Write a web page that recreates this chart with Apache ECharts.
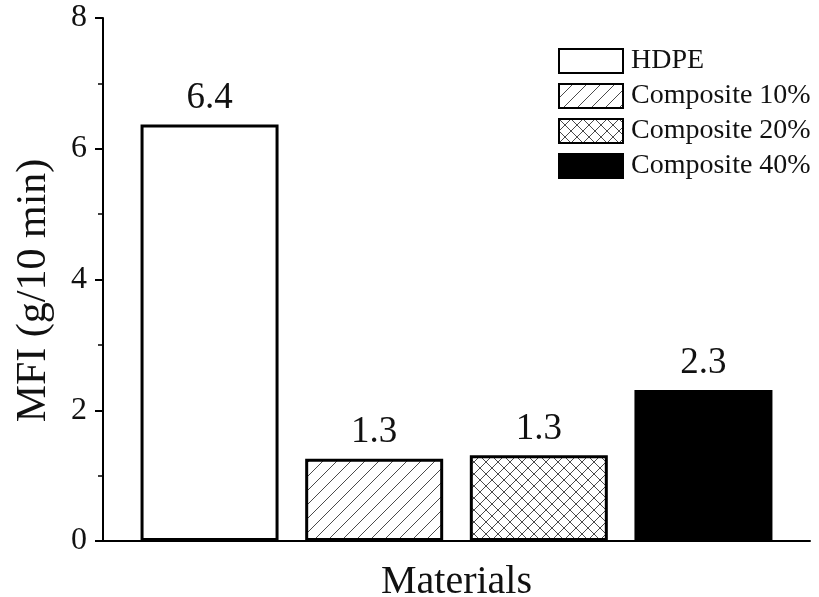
<!DOCTYPE html>
<html>
<head>
<meta charset="utf-8">
<script src="https://cdn.jsdelivr.net/npm/echarts@6/dist/echarts.min.js"></script>
<style>html,body{margin:0;padding:0;background:#fff;}#chart{width:819px;height:597px;}</style>
</head>
<body>
<div id="chart"></div>
<script>
const seriesNames = ['HDPE', 'Composite 10%', 'Composite 20%', 'Composite 40%'];
const mfiValues = [6.37, 1.26, 1.31, 2.31];
const categories = ['Materials'];
const yTicks = { min: 0, max: 8, interval: 2 };

function makePattern(kind) {
  const s = kind === 'cross' ? 12 : 14;
  const c = document.createElement('canvas');
  c.width = s; c.height = s;
  const g = c.getContext('2d');
  g.fillStyle = '#fff';
  g.fillRect(0, 0, s, s);
  g.strokeStyle = '#4a4a4a';
  g.lineWidth = 1;
  g.beginPath();
  g.moveTo(-2, s + 2); g.lineTo(s + 2, -2);
  g.moveTo(-2, 2); g.lineTo(2, -2);
  g.moveTo(s - 2, s + 2); g.lineTo(s + 2, s - 2);
  if (kind === 'cross') {
    g.moveTo(-2, -2); g.lineTo(s + 2, s + 2);
    g.moveTo(s - 2, -2); g.lineTo(s + 2, 2);
    g.moveTo(-2, s - 2); g.lineTo(2, s + 2);
  }
  g.stroke();
  return { image: c, repeat: 'repeat' };
}

const fills = ['#ffffff', makePattern('diag'), makePattern('cross'), '#000000'];
const font = "'Liberation Serif', 'Times New Roman', serif";

const chart = echarts.init(document.getElementById('chart'));
chart.setOption({
  backgroundColor: '#fff',
  animation: false,
  textStyle: { fontFamily: font, color: '#111' },
  grid: { left: 103, top: 18, right: 9, bottom: 56, containLabel: false, outerBoundsMode: 'none' },
  legend: {
    left: 558, top: 47, orient: 'vertical', padding: 0,
    itemWidth: 64, itemHeight: 24, itemGap: 7,
    data: seriesNames,
    textStyle: { fontFamily: font, fontSize: 28, lineHeight: 26, color: '#111', padding: [0, 0, 0, 3] },
    icon: 'rect'
  },
  xAxis: {
    type: 'category', data: categories,
    axisLine: { lineStyle: { color: '#000', width: 2 } },
    axisTick: { show: false },
    axisLabel: { show: false },
    name: 'Materials', nameLocation: 'middle', nameGap: 21,
    nameTextStyle: { fontFamily: font, fontSize: 40, color: '#111' }
  },
  yAxis: {
    type: 'value', min: yTicks.min, max: yTicks.max, interval: yTicks.interval,
    axisLine: { show: true, lineStyle: { color: '#000', width: 2 } },
    axisTick: { show: true, inside: false, length: 8, lineStyle: { color: '#000', width: 2 } },
    minorTick: { show: true, splitNumber: 2, length: 5, lineStyle: { color: '#000', width: 1.5 } },
    splitLine: { show: false },
    axisLabel: { fontFamily: font, fontSize: 32, color: '#111', margin: 16 },
    name: 'MFI (g/10 min)', nameLocation: 'middle', nameGap: 48, nameRotate: 90,
    nameTextStyle: { fontFamily: font, fontSize: 42, color: '#111', padding: [0, 22, 0, 0] }
  },
  series: seriesNames.map((n, i) => ({
    name: n, type: 'bar',
    data: [mfiValues[i]],
    barWidth: 138, barGap: '19.3%',
    itemStyle: { color: fills[i], borderColor: '#000', borderWidth: 3 },
    label: {
      show: true, position: 'top', distance: 8,
      fontFamily: font, fontSize: 37, color: '#111',
      formatter: p => p.value.toFixed(1)
    }
  }))
});
</script>
</body>
</html>
